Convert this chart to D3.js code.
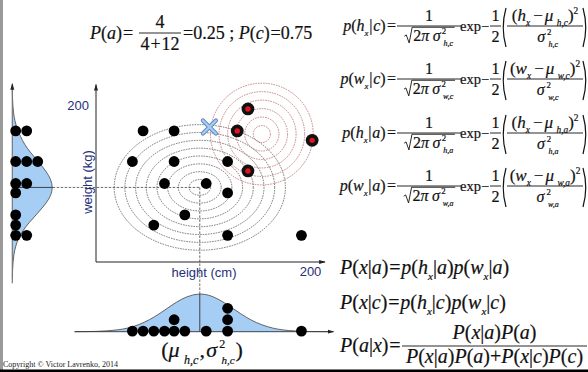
<!DOCTYPE html>
<html>
<head>
<meta charset="utf-8">
<script src="https://cdn.jsdelivr.net/npm/d3@7"></script>
<style>
html, body { margin: 0; padding: 0; background: #fff; }
svg { display: block; }
</style>
</head>
<body>
<script>
var W = 588, H = 372;

// class c (black) and class a (red): height (cm), weight (kg)
var heightC = [44, 73, 34, 73, 123, 64, 103, 123, 83, 54, 123, 192];
var weightC = [167, 167, 128, 128, 128, 100, 100, 88, 60, 47, 34, 34];
var heightA = [142, 132, 202, 142];
var weightA = [195, 167, 155, 116];
var query = [106, 172];

// fitted gaussians, as drawn
var meanC = [97, 95];
var meanA = [155, 163];
var ringsCh = [10, 20, 30, 40, 50, 60, 70, 80];
var ringsCw = [10, 20, 30, 40, 50, 60, 70, 80];
var ringsAh = [8, 16, 24, 32, 40, 48];
var ringsAw = [10.8, 21.6, 32.4, 43.2, 54, 64.8];

// marginal densities (relative height)
var hGrid = [-20, -10, 0, 10, 20, 30, 40, 50, 60, 70, 80, 90, 100, 110, 120, 130, 140, 150, 160, 170, 180, 190, 200, 210, 220];
var densH = [0, 0.003, 0.007, 0.02, 0.045, 0.09, 0.18, 0.31, 0.48, 0.68, 0.86, 0.97, 1.0, 0.92, 0.76, 0.57, 0.38, 0.23, 0.13, 0.06, 0.03, 0.01, 0.004, 0.002, 0];
var wGrid = [-20, -10, 0, 10, 20, 30, 40, 50, 60, 70, 80, 90, 100, 110, 120, 130, 140, 150, 160, 170, 180, 190, 200, 210, 220];
var densW = [0.002, 0.007, 0.017, 0.039, 0.081, 0.15, 0.26, 0.41, 0.59, 0.76, 0.91, 0.99, 0.99, 0.91, 0.77, 0.61, 0.44, 0.3, 0.2, 0.12, 0.06, 0.03, 0.012, 0.005, 0];

var axisTicks = [200];

var SERIF = "'Liberation Serif','Times New Roman','DejaVu Serif',serif";
var SANS = "'Liberation Sans', Arial, sans-serif";
var ink = "#111";
var navy = "#25307a";

var svg = d3.select("body").append("svg").attr("width", W).attr("height", H);

var defs = svg.append("defs");
defs.append("marker").attr("id", "arr").attr("viewBox", "0 0 8 6")
    .attr("refX", 7).attr("refY", 3).attr("markerWidth", 7).attr("markerHeight", 5)
    .attr("orient", "auto").attr("markerUnits", "userSpaceOnUse")
  .append("path").attr("d", "M0,0.6L8,3L0,5.4z").attr("fill", "#222");

var x = d3.scaleLinear().domain([0, 200]).range([96, 310]);
var y = d3.scaleLinear().domain([0, 200]).range([262, 105]);
var baseB = 331.7, axisL = 12.3;
var dh = d3.scaleLinear().domain([0, 1]).range([baseB, 293.5]);
var dw = d3.scaleLinear().domain([0, 1]).range([axisL, 52.7]);

// frame
svg.append("rect").attr("x", 0).attr("y", 0).attr("width", 3).attr("height", H).attr("fill", "#9a9a9a");
svg.append("line").attr("x1", 0).attr("x2", W).attr("y1", 370.8).attr("y2", 370.8)
    .attr("stroke", "#000").attr("stroke-width", 2.4);

// marginal densities
var hData = hGrid.map(function(h, i) { return [h, densH[i]]; });
var wData = wGrid.map(function(w, i) { return [w, densW[i]]; });

svg.append("path").datum(hData)
    .attr("d", d3.area().curve(d3.curveBasis).x(function(d) { return x(d[0]); }).y0(baseB).y1(function(d) { return dh(d[1]); }))
    .attr("fill", "#a6cdf4");
svg.append("path").datum(hData)
    .attr("d", d3.line().curve(d3.curveBasis).x(function(d) { return x(d[0]); }).y(function(d) { return dh(d[1]); }))
    .attr("fill", "none").attr("stroke", "#444").attr("stroke-width", 0.8);

svg.append("path").datum(wData)
    .attr("d", d3.area().curve(d3.curveBasis).y(function(d) { return y(d[0]); }).x0(axisL).x1(function(d) { return dw(d[1]); }))
    .attr("fill", "#a6cdf4");
svg.append("path").datum(wData)
    .attr("d", d3.line().curve(d3.curveBasis).y(function(d) { return y(d[0]); }).x(function(d) { return dw(d[1]); }))
    .attr("fill", "none").attr("stroke", "#444").attr("stroke-width", 0.8);

// marginal axes
svg.append("line").attr("x1", axisL).attr("x2", axisL).attr("y1", y(-27)).attr("y2", y(227))
    .attr("stroke", "#777").attr("stroke-width", 1.2).attr("marker-end", "url(#arr)");
svg.append("line").attr("x1", x(-20)).attr("x2", x(222)).attr("y1", baseB).attr("y2", baseB)
    .attr("stroke", "#333").attr("stroke-width", 0.9).attr("marker-end", "url(#arr)");

// crosshair through class c mean
svg.append("line").attr("x1", dw(1)).attr("x2", x(meanC[0])).attr("y1", y(meanC[1])).attr("y2", y(meanC[1]))
    .attr("stroke", "#444").attr("stroke-width", 0.8).attr("stroke-dasharray", "2.5,1.5");
svg.append("line").attr("x1", axisL).attr("x2", dw(1)).attr("y1", y(meanC[1])).attr("y2", y(meanC[1]))
    .attr("stroke", "#333").attr("stroke-width", 0.9);
svg.append("line").attr("x1", x(meanC[0])).attr("x2", x(meanC[0])).attr("y1", y(meanC[1])).attr("y2", dh(1))
    .attr("stroke", "#444").attr("stroke-width", 0.8).attr("stroke-dasharray", "2.5,1.5");
svg.append("line").attr("x1", x(meanC[0])).attr("x2", x(meanC[0])).attr("y1", dh(1)).attr("y2", baseB)
    .attr("stroke", "#333").attr("stroke-width", 0.9);

// main axes
svg.append("line").attr("x1", x(0)).attr("x2", x(0)).attr("y1", y(0)).attr("y2", y(226))
    .attr("stroke", "#222").attr("stroke-width", 1).attr("marker-end", "url(#arr)");
svg.append("line").attr("x1", x(0)).attr("x2", x(214)).attr("y1", y(0)).attr("y2", y(0))
    .attr("stroke", "#222").attr("stroke-width", 1).attr("marker-end", "url(#arr)");

var gx = svg.append("g").attr("transform", "translate(0," + y(0) + ")")
    .call(d3.axisBottom(x).tickValues(axisTicks).tickSize(0).tickPadding(5));
var gy = svg.append("g").attr("transform", "translate(" + x(0) + ",0)")
    .call(d3.axisLeft(y).tickValues(axisTicks).tickSize(0).tickPadding(7));
[gx, gy].forEach(function(g) {
  g.select(".domain").remove();
  g.selectAll("text").attr("font-family", SANS).attr("font-size", 13).attr("fill", navy);
});

svg.append("text").attr("x", 204).attr("y", 277).attr("text-anchor", "middle")
    .attr("font-family", SANS).attr("font-size", 13).attr("fill", navy).text("height (cm)");
svg.append("text").attr("transform", "translate(91.5,182) rotate(-90)").attr("text-anchor", "middle")
    .attr("font-family", SANS).attr("font-size", 13).attr("fill", navy).text("weight (kg)");

// contour rings
svg.append("g").selectAll("ellipse").data(ringsCh).enter().append("ellipse")
    .attr("cx", x(meanC[0])).attr("cy", y(meanC[1]))
    .attr("rx", function(r) { return x(meanC[0] + r) - x(meanC[0]); })
    .attr("ry", function(r, i) { return y(meanC[1] - ringsCw[i]) - y(meanC[1]); })
    .attr("fill", "none").attr("stroke", "#444").attr("stroke-width", 0.7).attr("stroke-dasharray", "1.6,1");
svg.append("g").selectAll("ellipse").data(ringsAh).enter().append("ellipse")
    .attr("cx", x(meanA[0])).attr("cy", y(meanA[1]))
    .attr("rx", function(r) { return x(meanA[0] + r) - x(meanA[0]); })
    .attr("ry", function(r, i) { return y(meanA[1] - ringsAw[i]) - y(meanA[1]); })
    .attr("fill", "none").attr("stroke", "#b05858").attr("stroke-width", 0.7).attr("stroke-dasharray", "1.6,1");

// points
var ptsC = heightC.map(function(h, i) { return [h, weightC[i]]; });
var ptsA = heightA.map(function(h, i) { return [h, weightA[i]]; });

svg.append("g").selectAll("circle").data(ptsC).enter().append("circle")
    .attr("cx", function(d) { return x(d[0]); }).attr("cy", function(d) { return y(d[1]); })
    .attr("r", 5.4).attr("fill", "#000");
var ga = svg.append("g").selectAll("g").data(ptsA).enter().append("g");
ga.append("circle").attr("cx", function(d) { return x(d[0]); }).attr("cy", function(d) { return y(d[1]); })
    .attr("r", 6.4).attr("fill", "#111");
ga.append("circle").attr("cx", function(d) { return x(d[0]); }).attr("cy", function(d) { return y(d[1]); })
    .attr("r", 2.7).attr("fill", "#e0141c");

// query point
var qx = x(query[0]), qy = y(query[1]), qs = 6.5;
[["#5a86bd", 4.2], ["#a9cdf2", 2.4]].forEach(function(st) {
  svg.append("path").attr("d", "M" + (qx - qs) + "," + (qy - qs) + "L" + (qx + qs) + "," + (qy + qs) +
      "M" + (qx - qs) + "," + (qy + qs) + "L" + (qx + qs) + "," + (qy - qs))
    .attr("stroke", st[0]).attr("stroke-width", st[1]).attr("stroke-linecap", "round");
});

// stacked projections on the marginals
var cntH = {}, cntW = {};
svg.append("g").selectAll("circle").data(heightC).enter().append("circle")
    .attr("cx", function(h) { return x(h); })
    .attr("cy", function(h) { var k = cntH[h] || 0; cntH[h] = k + 1; return baseB - 0.6 - k * 11.4; })
    .attr("r", 5.4).attr("fill", "#000");
svg.append("g").selectAll("circle").data(weightC).enter().append("circle")
    .attr("cy", function(w) { return y(w); })
    .attr("cx", function(w) { var k = cntW[w] || 0; cntW[w] = k + 1; return axisL + 3.4 + k * 11; })
    .attr("r", 5.4).attr("fill", "#000");

// ---------- math typesetting helpers ----------
function tx(g, t, px, py, size, it) {
  return g.append("text").attr("x", px).attr("y", py).attr("font-size", size)
      .attr("font-family", SERIF).attr("fill", ink)
      .attr("stroke", ink).attr("stroke-width", 0.2)
      .attr("font-style", it ? "italic" : "normal").text(t);
}
function seq(parent, segs, fs) {
  var g = parent.append("g");
  var cx = 0;
  segs.forEach(function(s) {
    var t = s[0], k = s[1];
    if (k === "sp") { cx += fs * t; return; }
    if (k === "st") {
      var a = tx(g, t[0], cx, -fs * 0.42, fs * 0.55, false);
      var b = tx(g, t[1], cx + fs * 0.1, fs * 0.34, fs * 0.5, true);
      cx += Math.max(a.node().getComputedTextLength(), fs * 0.1 + b.node().getComputedTextLength()) + fs * 0.04;
      return;
    }
    var size = fs, dy = 0, it = (k === "i");
    if (k === "sub") { size = fs * 0.55; dy = fs * 0.3; it = true; }
    if (k === "sup") { size = fs * 0.55; dy = -fs * 0.42; }
    var el = tx(g, t, cx, dy, size, it);
    cx += el.node().getComputedTextLength();
  });
  return { g: g, w: cx };
}
function put(parent, segs, fs, px, py, anchor) {
  var r = seq(parent, segs, fs);
  var x0 = anchor === "middle" ? px - r.w / 2 : anchor === "end" ? px - r.w : px;
  r.g.attr("transform", "translate(" + x0 + "," + py + ")");
  return r;
}
function hbar(x0, x1, yy) {
  svg.append("line").attr("x1", x0).attr("x2", x1).attr("y1", yy).attr("y2", yy)
      .attr("stroke", ink).attr("stroke-width", 0.9);
}
function sqrtPut(segs, fs, cxm, py) {
  var r = seq(svg, segs, fs);
  var rw = fs * 0.55, tot = rw + r.w;
  var px = cxm - tot / 2, top = py - fs * 0.86;
  r.g.attr("transform", "translate(" + (px + rw) + "," + py + ")");
  svg.append("path").attr("d", "M" + px + "," + (py - fs * 0.3) + "L" + (px + fs * 0.12) + "," + (py - fs * 0.38) +
      "L" + (px + fs * 0.3) + "," + (py + fs * 0.12) + "L" + (px + rw - fs * 0.06) + "," + top +
      "L" + (px + tot + 1) + "," + top)
    .attr("fill", "none").attr("stroke", ink).attr("stroke-width", 0.9);
}
function paren(px, y0, y1, dir) {
  var m = (y0 + y1) / 2;
  svg.append("path").attr("d", "M" + (px + 3 * dir) + "," + y0 + "Q" + (px - 2.5 * dir) + "," + m + " " + (px + 3 * dir) + "," + y1)
      .attr("fill", "none").attr("stroke", ink).attr("stroke-width", 1.2);
}

// ---------- prior ----------
put(svg, [["P", "i"], ["(", "r"], ["a", "i"], [")", "r"], [0.05, "sp"], ["=", "r"]], 18, 90, 39);
hbar(139, 181, 33);
put(svg, [["4", "r"]], 18, 160, 28, "middle");
put(svg, [["4", "r"], [0.05, "sp"], ["+", "r"], [0.05, "sp"], ["12", "r"]], 18, 160, 50, "middle");
put(svg, [["=0.25", "r"], [0.25, "sp"], [";", "r"], [0.25, "sp"], ["P", "i"], ["(", "r"], ["c", "i"], [")", "r"], [0.05, "sp"], ["=0.75", "r"]], 18, 183, 39);

// ---------- class conditional gaussians ----------
var rowVar = ["h", "w", "h", "w"];
var rowCls = ["c", "c", "a", "a"];
var rowY = [26, 79, 133, 186];
rowVar.forEach(function(v, i) {
  var Y = rowY[i], fs = 16, cl = rowCls[i], sub = v + "," + cl;
  put(svg, [["p", "i"], ["(", "r"], [v, "i"], ["x", "sub"], [0.05, "sp"], ["|", "r"], [0.05, "sp"], [cl, "i"], [")", "r"], [0.08, "sp"], ["=", "r"]], fs, 396, Y + 5, "end");
  hbar(397, 461, Y);
  put(svg, [["1", "r"]], fs, 429, Y - 5, "middle");
  sqrtPut([["2", "r"], ["π", "i"], [0.22, "sp"], ["σ", "i"], [0.08, "sp"], [["2", sub], "st"]], fs, 429, Y + 15);
  put(svg, [["exp", "r"], ["−", "r"]], 14.5, 460, Y + 5);
  hbar(490, 501, Y);
  put(svg, [["1", "r"]], fs, 495.5, Y - 5, "middle");
  put(svg, [["2", "r"]], fs, 495.5, Y + 16, "middle");
  paren(503, Y - 18, Y + 21, 1);
  hbar(507, 583, Y);
  put(svg, [["(", "r"], [v, "i"], ["x", "sub"], [0.18, "sp"], ["−", "r"], [0.12, "sp"], ["μ", "i"], [0.2, "sp"], [sub, "sub"], [")", "r"], ["2", "sup"]], 17, 545, Y - 5, "middle");
  put(svg, [["σ", "i"], [0.12, "sp"], [["2", sub], "st"]], fs, 548, Y + 16, "middle");
  paren(586, Y - 18, Y + 21, -1);
});

// ---------- likelihoods and posterior ----------
function lik(cl) {
  return [["P", "i"], ["(", "r"], ["x", "i"], ["|", "r"], [cl, "i"], [")", "r"], [0.04, "sp"], ["=", "r"], [0.04, "sp"],
          ["p", "i"], ["(", "r"], ["h", "i"], ["x", "sub"], ["|", "r"], [cl, "i"], [")", "r"],
          ["p", "i"], ["(", "r"], ["w", "i"], ["x", "sub"], ["|", "r"], [cl, "i"], [")", "r"]];
}
put(svg, lik("a"), 20, 340, 274);
put(svg, lik("c"), 20, 340, 309);
put(svg, [["P", "i"], ["(", "r"], ["a", "i"], ["|", "r"], ["x", "i"], [")", "r"], [0.04, "sp"], ["=", "r"]], 20, 340, 352);
hbar(402, 587, 346);
put(svg, [["P", "i"], ["(", "r"], ["x", "i"], ["|", "r"], ["a", "i"], [")", "r"], ["P", "i"], ["(", "r"], ["a", "i"], [")", "r"]], 20, 494.5, 339, "middle");
put(svg, [["P", "i"], ["(", "r"], ["x", "i"], ["|", "r"], ["a", "i"], [")", "r"], ["P", "i"], ["(", "r"], ["a", "i"], [")", "r"], ["+", "r"],
          ["P", "i"], ["(", "r"], ["x", "i"], ["|", "r"], ["c", "i"], [")", "r"], ["P", "i"], ["(", "r"], ["c", "i"], [")", "r"]], 20, 494.5, 363, "middle");

// ---------- marginal parameters ----------
put(svg, [["(", "r"], ["μ", "i"], [0.2, "sp"], ["h,c", "sub"], [0.05, "sp"], [",", "r"], [0.05, "sp"], ["σ", "i"], [0.1, "sp"], [["2", "h,c"], "st"], [")", "r"]], 22, 202, 357, "middle");

svg.append("text").attr("x", 3).attr("y", 367).attr("font-family", SERIF).attr("font-size", 8)
    .attr("fill", "#222").text("Copyright © Victor Lavrenko, 2014");
</script>
</body>
</html>
